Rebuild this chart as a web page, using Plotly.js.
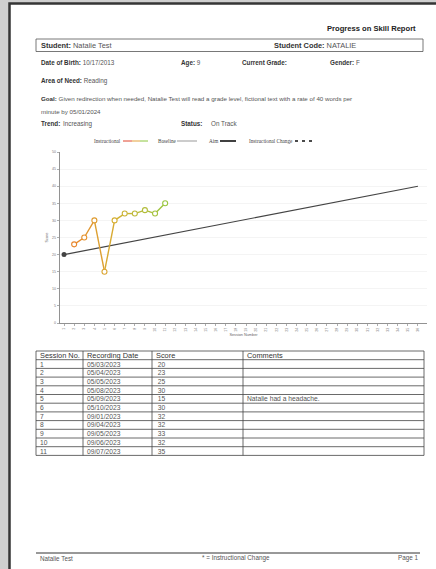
<!DOCTYPE html>
<html>
<head>
<meta charset="utf-8">
<script src="https://cdn.plot.ly/plotly-3.0.1.min.js"></script>
<style>html,body{margin:0;padding:0;background:#fff;}#chart{width:436px;height:569px;}</style>
</head>
<body>
<div id="chart"></div>
<script>
// ---------- data ----------
const sessionNumbers = [1, 2, 3, 4, 5, 6, 7, 8, 9, 10, 11];
const recordingDates = ['05/03/2023','05/04/2023','05/05/2023','05/08/2023','05/09/2023','05/10/2023','09/01/2023','09/04/2023','09/05/2023','09/06/2023','09/07/2023'];
const scores = [20, 23, 25, 30, 15, 30, 32, 32, 33, 32, 35];
const comments = ['', '', '', '', 'Natalie had a headache.', '', '', '', '', '', ''];
const tableHeaders = ['Session No.', 'Recording Date', 'Score', 'Comments'];
const aimSessions = [1, 36];
const aimScores = [20, 40];
const legendLabels = ['Instructional', 'Baseline', 'Aim', 'Instructional Change'];

// ---------- helpers ----------
const W = 436, H = 569;
const px = x => x / W;
const py = y => 1 - y / H;
const SANS = 'Liberation Sans, Arial, Helvetica, sans-serif';
const SERIF = 'Liberation Serif, Times New Roman, serif';

function hexToRgb(h){h=h.replace('#','');return [parseInt(h.substr(0,2),16),parseInt(h.substr(2,2),16),parseInt(h.substr(4,2),16)];}
function grad(t){
  const stops=[[0,'#e8872d'],[0.45,'#d6b033'],[1,'#99c63f']];
  for(let i=0;i<stops.length-1;i++){
    const [t0,c0]=stops[i],[t1,c1]=stops[i+1];
    if(t<=t1){const f=(t-t0)/(t1-t0);const a=hexToRgb(c0),b=hexToRgb(c1);
      return 'rgb('+a.map((v,k)=>Math.round(v+(b[k]-v)*f)).join(',')+')';}
  }
  return stops[stops.length-1][1];
}

const annotations = [];
const shapes = [];
function ann(text, x, y, o){
  o=o||{};
  annotations.push({text:text, x:px(x), y:py(y), xref:'paper', yref:'paper', showarrow:false,
    xanchor:o.xanchor||'left', yanchor:'middle', align:o.xanchor||'left',
    textangle:o.angle||0,
    font:{family:o.family||SANS, size:o.size||6.6, color:o.color||'#333'}});
}
function line(x0,y0,x1,y1,color,width,dash){
  shapes.push({type:'line', xref:'paper', yref:'paper', x0:px(x0), y0:py(y0), x1:px(x1), y1:py(y1),
    line:{color:color, width:width, dash:dash||'solid'}});
}

// ---------- page frame ----------
shapes.push({type:'rect', xref:'paper', yref:'paper', layer:'below', x0:px(9.5), y0:py(3.5), x1:1.05, y1:-0.05,
  fillcolor:'#ffffff', line:{color:'#353535', width:2.5}});

// ---------- header ----------
ann('<b>Progress on Skill Report</b>', 418, 29, {xanchor:'right', size:7.6, color:'#222'});
shapes.push({type:'rect', xref:'paper', yref:'paper', x0:px(36), y0:py(39), x1:px(423), y1:py(51.5),
  line:{color:'#555', width:0.8}});
ann('<b>Student:</b> <span style="color:#555">Natalie Test</span>', 39, 45.5, {size:7.4});
ann('<b>Student Code:</b> <span style="color:#555">NATALIE</span>', 272, 45.5, {size:7.4});
ann('<b>Date of Birth:</b> <span style="color:#555">10/17/2013</span>', 39, 63, {size:6.3});
ann('<b>Age:</b> <span style="color:#555">9</span>', 179, 63, {size:6.3});
ann('<b>Current Grade:</b>', 240, 63, {size:6.3});
ann('<b>Gender:</b> <span style="color:#555">F</span>', 328, 63, {size:6.3});
ann('<b>Area of Need:</b> <span style="color:#555">Reading</span>', 39, 81, {size:6.3});
ann('<b>Goal:</b> <span style="color:#555">Given redirection when needed, Natalie Test will read a grade level, fictional text with a rate of 40 words per</span>', 39, 99, {size:6.2});
ann('<span style="color:#555">minute by 05/01/2024</span>', 39, 111, {size:6.2});
ann('<b>Trend:</b>', 39, 124, {size:6.3});
ann('<span style="color:#555">Increasing</span>', 61, 124, {size:6.3});
ann('<b>Status:</b>', 179, 124, {size:6.3});
ann('<span style="color:#555">On Track</span>', 209, 124, {size:6.3});

// ---------- legend (custom) ----------
const LY = 141;
ann(legendLabels[0], 92, LY, {family:SERIF, size:5.2, color:'#444'});
line(123,LY,132,LY,'#e0442c',1);
line(132,LY,140,LY,'#e3a13a',1);
line(140,LY,148,LY,'#8cc63f',1);
ann(legendLabels[1], 156, LY, {family:SERIF, size:5.2, color:'#444'});
line(177,LY,197,LY,'#999999',1);
ann(legendLabels[2], 207, LY, {family:SERIF, size:5.2, color:'#444'});
line(220,LY,236,LY,'#111111',1.6);
ann(legendLabels[3], 247, LY, {family:SERIF, size:5.2, color:'#444'});
line(295,LY,314,LY,'#111111',1.6,'3px,4px');

// ---------- chart traces ----------
const traces = [];
// aim line
traces.push({type:'scatter', mode:'lines', x:aimSessions, y:aimScores, hoverinfo:'skip',
  line:{color:'#444444', width:1.1}, showlegend:false});
// baseline point
traces.push({type:'scatter', mode:'markers', x:sessionNumbers.slice(0,1), y:scores.slice(0,1),
  marker:{color:'#444', size:5}, showlegend:false});
// instructional segments
const instX = sessionNumbers.slice(1), instY = scores.slice(1);
const tOf = s => (s - instX[0]) / (instX[instX.length-1] - instX[0]);
for(let i=0;i<instX.length-1;i++){
  traces.push({type:'scatter', mode:'lines', x:[instX[i],instX[i+1]], y:[instY[i],instY[i+1]],
    line:{color:grad((tOf(instX[i])+tOf(instX[i+1]))/2), width:1.4}, showlegend:false, hoverinfo:'skip'});
}
traces.push({type:'scatter', mode:'markers', x:instX, y:instY, showlegend:false,
  marker:{symbol:'circle', size:5, color:'#ffffff', line:{width:1.1, color:instX.map(s=>grad(tOf(s)))}}});

// ---------- table ----------
const colEdges = [36, 83, 152, 243, 424];
const tTop = 351, rowH = 8.7;
const columns = [sessionNumbers.map(String), recordingDates, scores.map(v=>' '+v), comments];
const nRows = sessionNumbers.length + 1;
const tBottom = tTop + rowH * nRows;
for(let r=0;r<=nRows;r++) line(colEdges[0], tTop+r*rowH, colEdges[4], tTop+r*rowH, '#444', 0.8);
colEdges.forEach(x=>line(x, tTop, x, tBottom, '#444', 0.8));
tableHeaders.forEach((h,c)=>ann(h, colEdges[c]+2, tTop+rowH/2, {size:7.4, color:'#333'}));
columns.forEach((col,c)=>col.forEach((v,r)=>{ if(v!=='') ann(v, colEdges[c]+2, tTop+rowH*(r+1.5), {size:6.7, color:'#555'}); }));

// ---------- footer ----------
line(36, 553, 420, 553, '#333', 1);
ann('Natalie Test', 38, 558, {size:6.3, color:'#555'});
ann('* = Instructional Change', 236, 558, {size:6.3, color:'#555', xanchor:'center'});
ann('Page 1', 420, 558, {size:6.3, color:'#555', xanchor:'right'});

// ---------- layout ----------
const layout = {
  width:W, height:H, margin:{l:0,r:0,t:0,b:0},
  paper_bgcolor:'#cfcfcf', plot_bgcolor:'#ffffff', showlegend:false,
  font:{family:SANS},
  xaxis:{domain:[px(60),px(427)], range:[0.6,36.9], tickmode:'linear', tick0:1, dtick:1,
    ticks:'outside', ticklen:2.5, tickwidth:0.6, tickcolor:'#777', showline:true, linecolor:'#777', linewidth:0.8,
    showgrid:false, zeroline:false, tickangle:-90, tickfont:{size:3.6, color:'#777'},
    title:{text:'Session Number', font:{size:3.8, color:'#666'}, standoff:2}, automargin:false},
  yaxis:{domain:[py(323),py(152)], range:[0,50], tickmode:'linear', tick0:0, dtick:5,
    ticks:'outside', ticklen:2.5, tickwidth:0.6, tickcolor:'#777', showline:true, linecolor:'#777', linewidth:0.8,
    showgrid:true, gridcolor:'#ececec', gridwidth:0.6, zeroline:false, tickfont:{size:3.6, color:'#777'},
    title:{text:'Score', font:{size:3.8, color:'#666'}, standoff:3}, automargin:false},
  shapes:shapes, annotations:annotations
};
Plotly.newPlot('chart', traces, layout, {staticPlot:true, displayModeBar:false});
</script>
</body>
</html>
